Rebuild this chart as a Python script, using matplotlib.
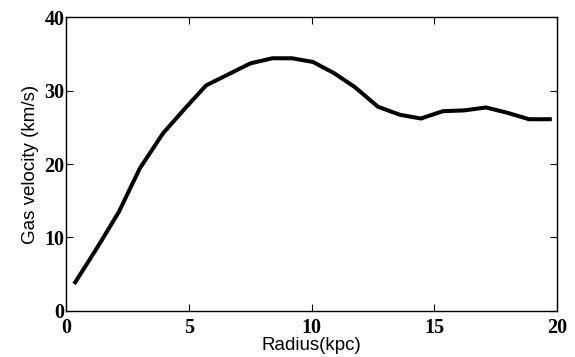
import matplotlib.pyplot as plt

# --- Data ---
radius = [0.37, 1.3, 2.15, 3.0, 3.95, 4.85, 5.7, 6.6, 7.5, 8.4, 9.2,
          10.05, 10.9, 11.75, 12.7, 13.6, 14.45, 15.35, 16.2, 17.1, 17.95, 18.85, 19.7]
velocity = [3.9, 8.8, 13.5, 19.4, 24.2, 27.6, 30.7, 32.2, 33.7, 34.4, 34.4,
            33.9, 32.4, 30.5, 27.8, 26.7, 26.2, 27.2, 27.3, 27.7, 27.0, 26.1, 26.1]

xticks = [0, 5, 10, 15, 20]
yticks = [0, 10, 20, 30, 40]

fig = plt.figure(figsize=(5.75, 3.57), dpi=100)
ax = fig.add_axes([0.115, 0.129, 0.854, 0.823])

ax.plot(radius, velocity, color='black', linewidth=2.9)

ax.set_xlim(0, 20)
ax.set_ylim(0, 40)
ax.set_xticks(xticks)
ax.set_yticks(yticks)
ax.tick_params(axis='both', direction='in', top=True, right=True, length=5, width=0.8)
ax.tick_params(axis='x', pad=5)
ax.tick_params(axis='y', pad=1)
for lab in ax.get_xticklabels() + ax.get_yticklabels():
    lab.set_family('Liberation Serif')
    lab.set_fontweight('bold')
    lab.set_fontsize(14.5)
for s in ax.spines.values():
    s.set_linewidth(1.0)

ax.set_xlabel("Radius(kpc)", family='Liberation Sans', fontsize=13.5, labelpad=-1)
ax.set_ylabel("Gas velocity (km/s)", family='Liberation Sans', fontsize=13.5, labelpad=4)

fig.savefig("out.png", dpi=100)
